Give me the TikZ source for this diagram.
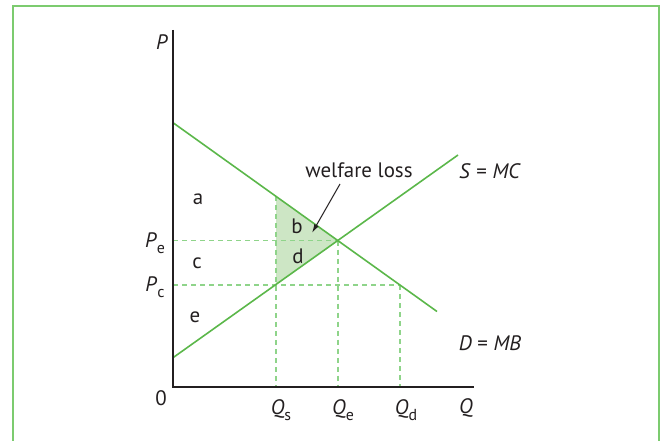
\documentclass[tikz,border=0pt]{standalone}
\usepackage{fontspec}
\setmainfont{PT Sans}
\usetikzlibrary{arrows.meta}
\definecolor{lg}{HTML}{5BB74A}
\definecolor{dg}{HTML}{8FD48A}
\definecolor{fillg}{HTML}{CDE6C5}
\definecolor{frameg}{HTML}{7CCB6F}
\definecolor{ink}{HTML}{231F20}
\newcommand{\sbs}[1]{\raisebox{-0.28em}{\fontsize{16}{16}\selectfont #1}}
\begin{document}
\begin{tikzpicture}[x=1bp,y=-1bp,
  lbl/.style={text=ink,font=\fontsize{21}{23}\selectfont,inner sep=0pt},
  curve/.style={lg,line width=1.6bp},
  guide/.style={dg,line width=1.4bp,dash pattern=on 5bp off 4bp},
  axis/.style={ink,line width=1.6bp}]
\useasboundingbox (0,0) rectangle (665,441);
\draw[frameg,line width=1.5bp] (13,441) -- (13,6) -- (659,6) -- (659,441);
% coordinates
\coordinate (O) at (173,387);
\coordinate (Ptop) at (173,30);
\coordinate (Qend) at (474,387);
\coordinate (Dstart) at (173,122.7);
\coordinate (Dend) at (437,311.5);
\coordinate (Sstart) at (173,357.7);
\coordinate (Send) at (458,155);
\coordinate (E) at (338,240.7);
\coordinate (Ds) at (276,196.4);
\coordinate (Ss) at (276,284.7);
\coordinate (Dd) at (400,285);
\coordinate (PeA) at (173,240.7);
\coordinate (PcA) at (173,285);
\coordinate (QsA) at (276,387);
\coordinate (QeA) at (338,387);
\coordinate (QdA) at (400,387);
% welfare loss triangle
\fill[fillg] (Ds) -- (E) -- (Ss) -- cycle;
% guides
\draw[guide] (PeA) -- (E);
\draw[guide] (PcA) -- (Dd);
\draw[guide] (Ds) -- (QsA);
\draw[guide] (E) -- (QeA);
\draw[guide] (Dd) -- (QdA);
% curves
\draw[curve] (Dstart) -- (Dend);
\draw[curve] (Sstart) -- (Send);
% axes
\draw[axis] (Ptop) -- (O) -- (Qend);
% labels
\node[lbl] (P) at (162,42) {\textit{P}};
\node[lbl] (zero) at (161,398) {0};
\node[lbl] (Qs) at (281,410) {\textit{Q}\sbs{s}};
\node[lbl] (Qe) at (343,410) {\textit{Q}\sbs{e}};
\node[lbl] (Qd) at (406,410) {\textit{Q}\sbs{d}};
\node[lbl] (Q) at (466,408) {\textit{Q}};
\node[lbl] (Pe) at (155,243) {\textit{P}\sbs{e}};
\node[lbl] (Pc) at (155,287) {\textit{P}\sbs{c}};
\node[lbl] (a) at (198,199) {a};
\node[lbl] (b) at (297,226) {b};
\node[lbl] (c) at (197,263) {c};
\node[lbl] (d) at (298,256) {d};
\node[lbl] (e) at (195,317) {e};
\node[lbl] (SMC) at (490,171) {\textit{S} = \textit{MC}};
\node[lbl] (DMB) at (490,343) {\textit{D} = \textit{MB}};
\node[lbl] (wl) at (359,170) {welfare loss};
\coordinate (tail) at (340,184);
\coordinate (tip) at (312,233);
\draw[ink,line width=1bp,-{Latex[length=9bp,width=5bp]}] (tail) -- (tip);
\end{tikzpicture}
\end{document}
